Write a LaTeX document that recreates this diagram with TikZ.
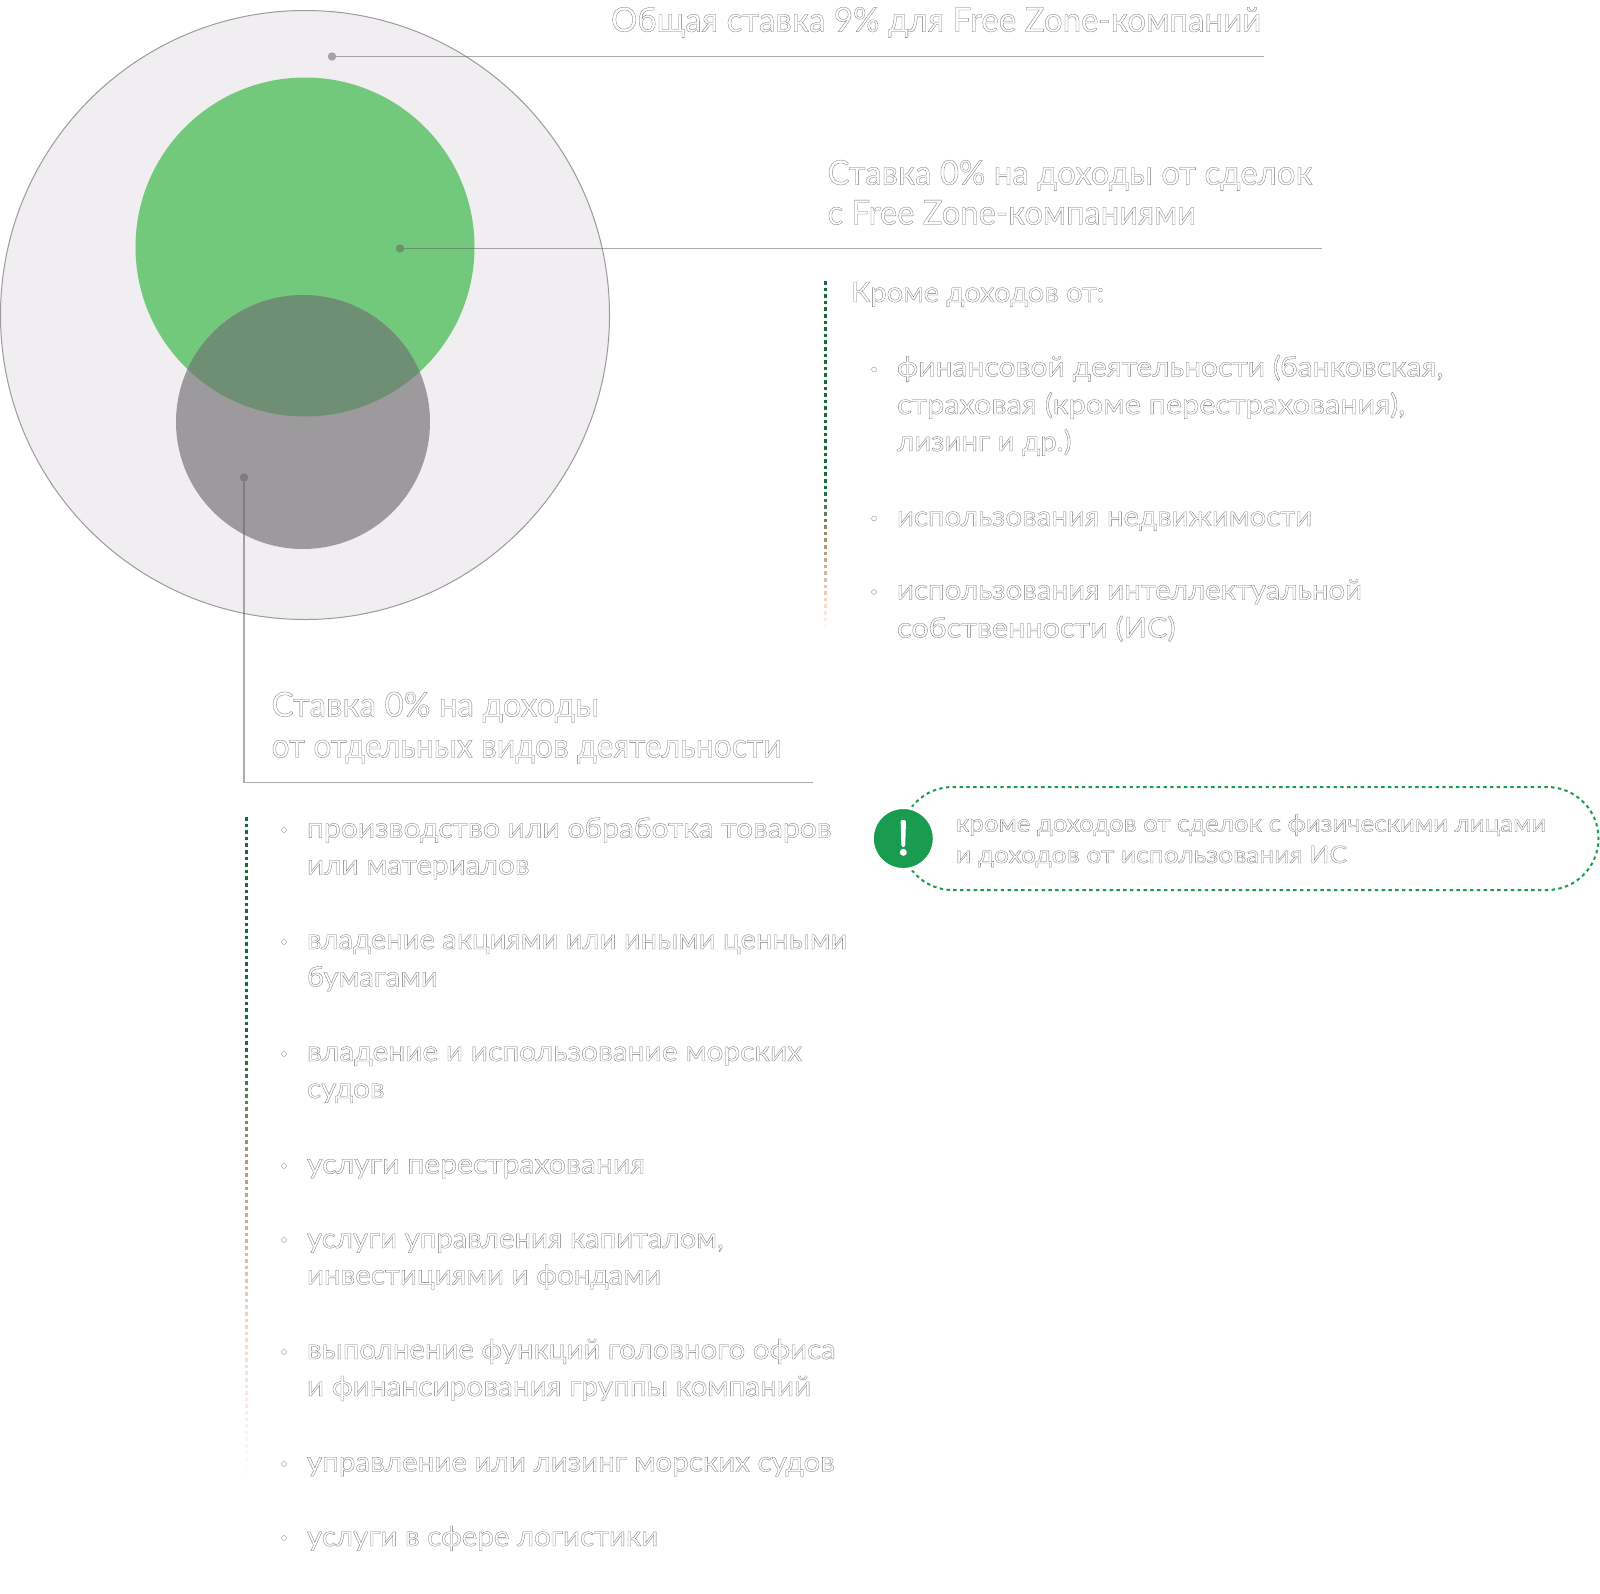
\documentclass[tikz,border=0pt]{standalone}
\usepackage{fontspec}
\usepackage{graphicx}
\setmainfont{Lato}
\definecolor{outerfill}{HTML}{F0EEF0}
\definecolor{outerline}{HTML}{9C9A9C}
\definecolor{greenfill}{HTML}{72C97C}
\definecolor{grayfill}{HTML}{9C9A9C}
\definecolor{overlap}{HTML}{6F8F74}
\definecolor{leader}{HTML}{666666}
\definecolor{alert}{HTML}{1A9C50}
\definecolor{dkgreen}{HTML}{1A6B3C}
\definecolor{tan}{HTML}{B09878}
\definecolor{peach}{HTML}{F6D5C5}
\newcommand\oln[2]{\resizebox{#1pt}{\height}{\special{pdf:code 1 Tr 0.3 w 0.45 G}#2\special{pdf:code 0 Tr}}}
% x, y start, y end, then the three stops of the colour fade
\newcommand\fadeline[6]{%
  \pgfmathtruncatemacro\nseg{int((#3-#2)/6.6)}%
  \foreach \i in {0,...,\nseg}{%
    \pgfmathsetmacro\yy{#2+\i*6.6}%
    \pgfmathsetmacro\tt{\i/\nseg}%
    \pgfmathtruncatemacro\kA{\tt<#4 ? 100 : (\tt<#5 ? 100-(\tt-#4)/(#5-#4)*100 : 0)}%
    \pgfmathtruncatemacro\kB{\tt<#5 ? 100 : (\tt<#6 ? 100-(\tt-#5)/(#6-#5)*100 : 0)}%
    \pgfmathtruncatemacro\kC{\tt<#6 ? 100 : 100-(\tt-#6)/(1-#6)*100}%
    \ifnum\kA>0
      \fill[dkgreen!\kA!tan] (#1-1.5,\yy) rectangle ++(3,3.6);
    \else\ifnum\kB>0
      \fill[tan!\kB!peach] (#1-1.5,\yy) rectangle ++(3,3.6);
    \else
      \fill[peach!\kC!white] (#1-1.5,\yy) rectangle ++(3,3.6);
    \fi\fi
  }%
}
\tikzset{
  x=1pt,y=-1pt,
  leaderline/.style={draw=leader,opacity=.55,line width=1.8pt},
  leaderdot/.style={circle,fill=leader,opacity=.55,inner sep=0pt,minimum size=8.4pt},
  txt/.style={anchor=base west,inner sep=0pt,outer sep=0pt},
  head/.style={txt,font=\fontsize{34}{34}\selectfont},
  body/.style={txt,font=\fontsize{28}{28}\selectfont},
  small/.style={txt,font=\fontsize{24}{24}\selectfont},
  bul/.style={circle,draw=black!50,line width=.3pt,fill=white,inner sep=0pt,minimum size=5pt},
}
\begin{document}
\begin{tikzpicture}
\useasboundingbox (0,0) rectangle (1600,1593);
% circles
\fill[white] (0,0) rectangle (1600,1593);
\draw[fill=outerfill,draw=outerline,line width=1pt] (305,315) circle (304.5);
\fill[greenfill] (305,247) circle (169.5);
\fill[grayfill] (303,422) circle (127);
\begin{scope}
  \clip (305,247) circle (169.5);
  \fill[overlap] (303,422) circle (127);
\end{scope}
% leaders
\node[leaderdot] (d1) at (332,56.5) {};
\node[leaderdot] (d2) at (400,248.5) {};
\node[leaderdot] (d3) at (244,477.5) {};
\coordinate (e1) at (1264,56.5);
\coordinate (e2) at (1321.5,248.5);
\coordinate (c3) at (244,782.5);
\coordinate (e3) at (813,782.5);
\draw[leaderline] (d1) -- (e1);
\draw[leaderline] (d2) -- (e2);
\draw[leaderline] (d3) -- (c3) -- (e3);
% fading lines
\fadeline{825.5}{281}{635}{0.59}{0.75}{0.91}
\fadeline{246}{817}{1485}{0.35}{0.51}{0.76}
% pill
\draw[alert,line width=2pt,dash pattern=on 3.4pt off 3.4pt,rounded corners=51.5pt] (901,787) rectangle (1598.5,890);
\node[circle,fill=alert,draw=white,line width=3.5pt,minimum size=62.5pt,inner sep=0pt] (alertdot) at (903.3,838.5) {};
\fill[white,rounded corners=2pt] (900.6,820) -- (906,820) -- (905.2,847) -- (901.4,847) -- cycle;
\fill[white] (903.3,852.3) circle (3.5);
% texts
\node[head] (t1) at (611,31.7) {\oln{650}{Общая ставка 9\% для Free Zone-компаний}};
\node[head] (t2a) at (827.5,184.7) {\oln{485}{Ставка 0\% на доходы от сделок}};
\node[head] (t2b) at (827.5,224.5) {\oln{368.5}{с Free Zone-компаниями}};
\node[body] (k0) at (851,302) {\oln{253}{Кроме доходов от:}};
\node[body] (k1) at (897,376.5) {\oln{546}{финансовой деятельности (банковская,}};
\node[body] (k2) at (897,414) {\oln{508}{страховая (кроме перестрахования),}};
\node[body] (k3) at (897,451) {\oln{174.5}{лизинг и др.)}};
\node[body] (k4) at (897,526) {\oln{415}{использования недвижимости}};
\node[body] (k5) at (897,599.5) {\oln{465}{использования интеллектуальной}};
\node[body] (k6) at (897,637.5) {\oln{278.5}{собственности (ИС)}};
\node[bul] (bk1) at (874,369.5) {};
\node[bul] (bk2) at (874,518.5) {};
\node[bul] (bk3) at (874,592) {};
\node[head] (t3a) at (271.5,716.5) {\oln{327.5}{Ставка 0\% на доходы}};
\node[head] (t3b) at (271.5,757.5) {\oln{510}{от отдельных видов деятельности}};
\node[body] (l1) at (307,837.7) {\oln{524.5}{производство или обработка товаров}};
\node[body] (l2) at (307,874.5) {\oln{222.5}{или материалов}};
\node[body] (l3) at (307,949) {\oln{540}{владение акциями или иными ценными}};
\node[body] (l4) at (307,986.5) {\oln{130.7}{бумагами}};
\node[body] (l5) at (307,1061) {\oln{495}{владение и использование морских}};
\node[body] (l6) at (307,1098) {\oln{77.6}{судов}};
\node[body] (l7) at (307,1173.5) {\oln{338}{услуги перестрахования}};
\node[body] (l8) at (307,1248) {\oln{416.5}{услуги управления капиталом,}};
\node[body] (l9) at (307,1284.5) {\oln{354}{инвестициями и фондами}};
\node[body] (l10) at (307,1359) {\oln{528.6}{выполнение функций головного офиса}};
\node[body] (l11) at (307,1396) {\oln{504}{и финансирования группы компаний}};
\node[body] (l12) at (307,1471.5) {\oln{527.7}{управление или лизинг морских судов}};
\node[body] (l13) at (307,1546) {\oln{351}{услуги в сфере логистики}};
\foreach \n/\yb in {a/830,b/942,c/1054,d/1166,e/1240,f/1352,g/1464,h/1538}{
  \node[bul] (bl\n) at (284,\yb) {};
}
\node[small] (p1) at (956,831.7) {\oln{590}{кроме доходов от сделок с физическими лицами}};
\node[small] (p2) at (956,863) {\oln{391}{и доходов от использования ИС}};
\end{tikzpicture}
\end{document}
